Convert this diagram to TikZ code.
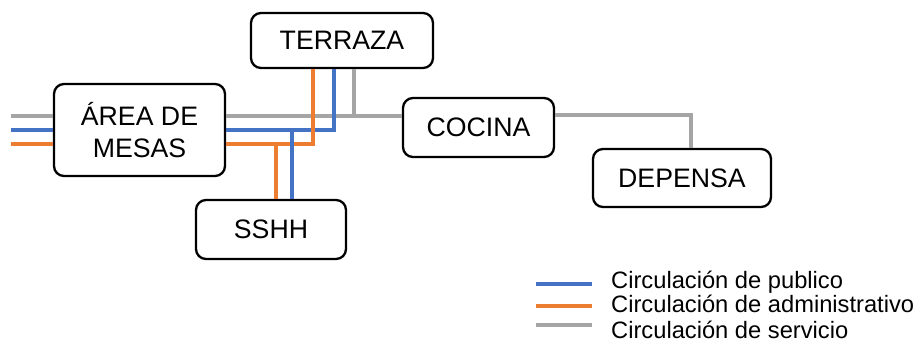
\documentclass[tikz,border=0pt]{standalone}
\usepackage{fontspec}
\setmainfont{Liberation Sans}
\definecolor{cblue}{HTML}{4472C4}
\definecolor{corange}{HTML}{ED7D31}
\definecolor{cgray}{HTML}{A5A5A5}
\begin{document}
\begin{tikzpicture}[x=1pt,y=-1pt,
  box/.style={draw=black,line width=2.3pt,rounded corners=10pt,fill=white,inner sep=0pt,
    align=center,font=\fontsize{26.7}{32}\selectfont},
  bl/.style={draw=cblue,line width=3.5pt},
  orl/.style={draw=corange,line width=3.5pt},
  grl/.style={draw=cgray,line width=3.5pt},
  legtext/.style={anchor=base west,inner sep=0pt,font=\fontsize{23.7}{28}\selectfont}]
\useasboundingbox (0,0) rectangle (923,346);
% boxes
\node[box,minimum width=171pt,minimum height=92pt] (area) at (139.5,130) {ÁREA DE\\MESAS};
\node[box,minimum width=182pt,minimum height=55pt] (terraza) at (342,40.5) {TERRAZA};
\node[box,minimum width=151pt,minimum height=59pt] (cocina) at (478.5,127.5) {COCINA};
\node[box,minimum width=178pt,minimum height=58pt] (depensa) at (682,178) {DEPENSA};
\node[box,minimum width=150pt,minimum height=59pt] (sshh) at (271,229.5) {SSHH};
% coordinates
\coordinate (Lg) at (11,116);
\coordinate (Lb) at (11,130);
\coordinate (Lo) at (11,144);
\coordinate (jg) at (354,116);
\coordinate (jb) at (334,130);
\coordinate (jo) at (313,144);
\coordinate (kd) at (691,115);
\coordinate (sb) at (292,130);
\coordinate (so) at (276,144);
% gray
\begin{scope}[on background layer/.style={}]
\draw[grl] (Lg) -- (Lg -| area.west);
\draw[grl] (Lg -| area.east) -- (Lg -| cocina.west);
\draw[grl] (jg) -- (jg |- terraza.south);
\draw[grl] (kd -| cocina.east) -- (kd) -- (kd |- depensa.north);
% blue
\draw[bl] (Lb) -- (Lb -| area.west);
\draw[bl] (jb -| area.east) -- (jb) -- (jb |- terraza.south);
% orange
\draw[orl] (Lo) -- (Lo -| area.west);
\draw[orl] (jo -| area.east) -- (jo) -- (jo |- terraza.south);
\draw[orl] (so) -- (so |- sshh.north);
\draw[bl] (sb) -- (sb |- sshh.north);
\end{scope}
% legend
\coordinate (l1a) at (536,284); \coordinate (l1b) at (592,284);
\coordinate (l2a) at (536,306); \coordinate (l2b) at (592,306);
\coordinate (l3a) at (536,325); \coordinate (l3b) at (592,325);
\draw[bl] (l1a) -- (l1b);
\draw[orl] (l2a) -- (l2b);
\draw[grl] (l3a) -- (l3b);
\node[legtext] (t1) at (611,288) {Circulación de publico};
\node[legtext] (t2) at (611,312) {Circulación de administrativo};
\node[legtext] (t3) at (611,338) {Circulación de servicio};
\end{tikzpicture}
\end{document}
